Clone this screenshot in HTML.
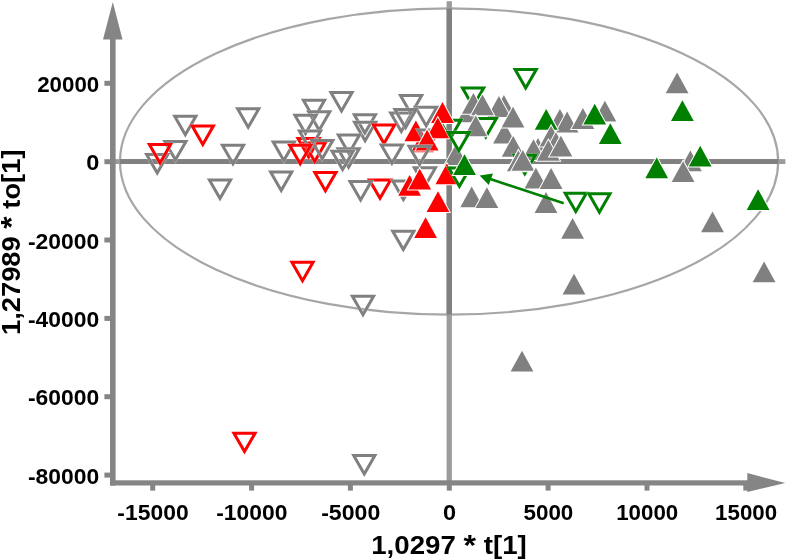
<!DOCTYPE html>
<html><head><meta charset="utf-8"><title>Score plot</title>
<style>
html,body{margin:0;padding:0;background:#fff}
svg{display:block}
text{font-family:"Liberation Sans",sans-serif;font-weight:bold;fill:#000}
.t{font-size:22.4px}
.h{font-size:25.8px}
</style></head><body>
<svg width="787" height="560" viewBox="0 0 787 560">
<defs><clipPath id="ec"><ellipse cx="449.1" cy="161.5" rx="329.1" ry="153.1"/></clipPath></defs>
<rect width="787" height="560" fill="#fff"/>
<ellipse cx="449.1" cy="161.5" rx="329.1" ry="153.1" fill="none" stroke="#a6a6a6" stroke-width="2.2"/>
<rect x="446.6" y="1.2" width="5.3" height="480" fill="#9c9c9c"/>
<rect x="115" y="159.1" width="670.4" height="4.9" fill="#9c9c9c"/>
<g clip-path="url(#ec)"><rect x="446.6" y="1.2" width="5.3" height="480" fill="#808080"/><rect x="115" y="159.1" width="670.4" height="4.9" fill="#808080"/></g>
<rect x="110" y="38" width="5.6" height="447.6" fill="#858585"/>
<polygon points="112.8,2 103,39.4 122.5,39.4" fill="#858585"/>
<rect x="110" y="480.3" width="639" height="5.2" fill="#858585"/>
<polygon points="785.3,482.9 747.3,473.1 747.3,491.9" fill="#858585"/>
<rect x="104.4" y="80.8" width="6" height="5" fill="#858585"/>
<rect x="104.4" y="159.2" width="6" height="5" fill="#858585"/>
<rect x="104.4" y="237.5" width="6" height="5" fill="#858585"/>
<rect x="104.4" y="315.9" width="6" height="5" fill="#858585"/>
<rect x="104.4" y="394.2" width="6" height="5" fill="#858585"/>
<rect x="104.4" y="472.6" width="6" height="5" fill="#858585"/>
<rect x="150.2" y="485" width="5" height="5.6" fill="#858585"/>
<rect x="249.1" y="485" width="5" height="5.6" fill="#858585"/>
<rect x="347.9" y="485" width="5" height="5.6" fill="#858585"/>
<rect x="446.8" y="485" width="5" height="5.6" fill="#858585"/>
<rect x="545.6" y="485" width="5" height="5.6" fill="#858585"/>
<rect x="644.5" y="485" width="5" height="5.6" fill="#858585"/>
<rect x="743.3" y="485" width="5" height="5.6" fill="#858585"/>
<g stroke-linejoin="miter">
<polygon points="174.7,116.3 195.9,116.3 185.3,134.7" fill="none" stroke="#fff" stroke-opacity=".5" stroke-width="3.8"/><polygon points="174.7,116.3 195.9,116.3 185.3,134.7" fill="none" stroke="#808080" stroke-width="3.0"/>
<polygon points="237.6,108.8 258.8,108.8 248.2,127.2" fill="none" stroke="#fff" stroke-opacity=".5" stroke-width="3.8"/><polygon points="237.6,108.8 258.8,108.8 248.2,127.2" fill="none" stroke="#808080" stroke-width="3.0"/>
<polygon points="164.8,141.4 186.0,141.4 175.4,159.8" fill="none" stroke="#fff" stroke-opacity=".5" stroke-width="3.8"/><polygon points="164.8,141.4 186.0,141.4 175.4,159.8" fill="none" stroke="#808080" stroke-width="3.0"/>
<polygon points="146.6,154.5 167.8,154.5 157.2,172.9" fill="none" stroke="#fff" stroke-opacity=".5" stroke-width="3.8"/><polygon points="146.6,154.5 167.8,154.5 157.2,172.9" fill="none" stroke="#808080" stroke-width="3.0"/>
<polygon points="222.4,145.3 243.6,145.3 233.0,163.7" fill="none" stroke="#fff" stroke-opacity=".5" stroke-width="3.8"/><polygon points="222.4,145.3 243.6,145.3 233.0,163.7" fill="none" stroke="#808080" stroke-width="3.0"/>
<polygon points="209.4,180.0 230.6,180.0 220.0,198.4" fill="none" stroke="#fff" stroke-opacity=".5" stroke-width="3.8"/><polygon points="209.4,180.0 230.6,180.0 220.0,198.4" fill="none" stroke="#808080" stroke-width="3.0"/>
<polygon points="273.2,142.0 294.4,142.0 283.8,160.4" fill="none" stroke="#fff" stroke-opacity=".5" stroke-width="3.8"/><polygon points="273.2,142.0 294.4,142.0 283.8,160.4" fill="none" stroke="#808080" stroke-width="3.0"/>
<polygon points="270.6,172.0 291.8,172.0 281.2,190.4" fill="none" stroke="#fff" stroke-opacity=".5" stroke-width="3.8"/><polygon points="270.6,172.0 291.8,172.0 281.2,190.4" fill="none" stroke="#808080" stroke-width="3.0"/>
<polygon points="330.9,92.6 352.1,92.6 341.5,111.0" fill="none" stroke="#fff" stroke-opacity=".5" stroke-width="3.8"/><polygon points="330.9,92.6 352.1,92.6 341.5,111.0" fill="none" stroke="#808080" stroke-width="3.0"/>
<polygon points="303.4,100.3 324.6,100.3 314.0,118.7" fill="none" stroke="#fff" stroke-opacity=".5" stroke-width="3.8"/><polygon points="303.4,100.3 324.6,100.3 314.0,118.7" fill="none" stroke="#808080" stroke-width="3.0"/>
<polygon points="308.6,111.8 329.8,111.8 319.2,130.2" fill="none" stroke="#fff" stroke-opacity=".5" stroke-width="3.8"/><polygon points="308.6,111.8 329.8,111.8 319.2,130.2" fill="none" stroke="#808080" stroke-width="3.0"/>
<polygon points="294.9,115.2 316.1,115.2 305.5,133.6" fill="none" stroke="#fff" stroke-opacity=".5" stroke-width="3.8"/><polygon points="294.9,115.2 316.1,115.2 305.5,133.6" fill="none" stroke="#808080" stroke-width="3.0"/>
<polygon points="354.3,114.7 375.5,114.7 364.9,133.1" fill="none" stroke="#fff" stroke-opacity=".5" stroke-width="3.8"/><polygon points="354.3,114.7 375.5,114.7 364.9,133.1" fill="none" stroke="#808080" stroke-width="3.0"/>
<polygon points="354.5,122.3 375.7,122.3 365.1,140.7" fill="none" stroke="#fff" stroke-opacity=".5" stroke-width="3.8"/><polygon points="354.5,122.3 375.7,122.3 365.1,140.7" fill="none" stroke="#808080" stroke-width="3.0"/>
<polygon points="338.3,135.1 359.5,135.1 348.9,153.5" fill="none" stroke="#fff" stroke-opacity=".5" stroke-width="3.8"/><polygon points="338.3,135.1 359.5,135.1 348.9,153.5" fill="none" stroke="#808080" stroke-width="3.0"/>
<polygon points="338.0,148.8 359.2,148.8 348.6,167.2" fill="none" stroke="#fff" stroke-opacity=".5" stroke-width="3.8"/><polygon points="338.0,148.8 359.2,148.8 348.6,167.2" fill="none" stroke="#808080" stroke-width="3.0"/>
<polygon points="332.0,151.2 353.2,151.2 342.6,169.6" fill="none" stroke="#fff" stroke-opacity=".5" stroke-width="3.8"/><polygon points="332.0,151.2 353.2,151.2 342.6,169.6" fill="none" stroke="#808080" stroke-width="3.0"/>
<polygon points="390.7,113.0 411.9,113.0 401.3,131.4" fill="none" stroke="#fff" stroke-opacity=".5" stroke-width="3.8"/><polygon points="390.7,113.0 411.9,113.0 401.3,131.4" fill="none" stroke="#808080" stroke-width="3.0"/>
<polygon points="400.5,95.5 421.7,95.5 411.1,113.9" fill="none" stroke="#fff" stroke-opacity=".5" stroke-width="3.8"/><polygon points="400.5,95.5 421.7,95.5 411.1,113.9" fill="none" stroke="#808080" stroke-width="3.0"/>
<polygon points="415.6,107.3 436.8,107.3 426.2,125.7" fill="none" stroke="#fff" stroke-opacity=".5" stroke-width="3.8"/><polygon points="415.6,107.3 436.8,107.3 426.2,125.7" fill="none" stroke="#808080" stroke-width="3.0"/>
<polygon points="394.9,109.4 416.1,109.4 405.5,127.8" fill="none" stroke="#fff" stroke-opacity=".5" stroke-width="3.8"/><polygon points="394.9,109.4 416.1,109.4 405.5,127.8" fill="none" stroke="#808080" stroke-width="3.0"/>
<polygon points="369.4,179.9 390.6,179.9 380.0,198.3" fill="none" stroke="#fff" stroke-opacity=".5" stroke-width="3.8"/><polygon points="369.4,179.9 390.6,179.9 380.0,198.3" fill="none" stroke="#ff0000" stroke-width="3.0"/>
<polygon points="350.0,181.6 371.2,181.6 360.6,200.0" fill="none" stroke="#fff" stroke-opacity=".5" stroke-width="3.8"/><polygon points="350.0,181.6 371.2,181.6 360.6,200.0" fill="none" stroke="#808080" stroke-width="3.0"/>
<polygon points="392.8,181.1 414.0,181.1 403.4,199.5" fill="none" stroke="#fff" stroke-opacity=".5" stroke-width="3.8"/><polygon points="392.8,181.1 414.0,181.1 403.4,199.5" fill="none" stroke="#808080" stroke-width="3.0"/>
<polygon points="414.3,167.8 435.5,167.8 424.9,186.2" fill="none" stroke="#fff" stroke-opacity=".5" stroke-width="3.8"/><polygon points="414.3,167.8 435.5,167.8 424.9,186.2" fill="none" stroke="#808080" stroke-width="3.0"/>
<polygon points="392.7,231.2 413.9,231.2 403.3,249.6" fill="none" stroke="#fff" stroke-opacity=".5" stroke-width="3.8"/><polygon points="392.7,231.2 413.9,231.2 403.3,249.6" fill="none" stroke="#808080" stroke-width="3.0"/>
<polygon points="352.4,296.3 373.6,296.3 363.0,314.7" fill="none" stroke="#fff" stroke-opacity=".5" stroke-width="3.8"/><polygon points="352.4,296.3 373.6,296.3 363.0,314.7" fill="none" stroke="#808080" stroke-width="3.0"/>
<polygon points="353.7,455.6 374.9,455.6 364.3,474.0" fill="none" stroke="#fff" stroke-opacity=".5" stroke-width="3.8"/><polygon points="353.7,455.6 374.9,455.6 364.3,474.0" fill="none" stroke="#808080" stroke-width="3.0"/>
<polygon points="298.0,138.6 319.2,138.6 308.6,157.0" fill="none" stroke="#fff" stroke-opacity=".5" stroke-width="3.8"/><polygon points="298.0,138.6 319.2,138.6 308.6,157.0" fill="none" stroke="#ff0000" stroke-width="3.0"/>
<polygon points="304.1,143.0 325.3,143.0 314.7,161.4" fill="none" stroke="#fff" stroke-opacity=".5" stroke-width="3.8"/><polygon points="304.1,143.0 325.3,143.0 314.7,161.4" fill="none" stroke="#ff0000" stroke-width="3.0"/>
<polygon points="299.4,131.1 320.6,131.1 310.0,149.5" fill="none" stroke="#fff" stroke-opacity=".5" stroke-width="3.8"/><polygon points="299.4,131.1 320.6,131.1 310.0,149.5" fill="none" stroke="#808080" stroke-width="3.0"/>
<polygon points="311.6,140.4 332.8,140.4 322.2,158.8" fill="none" stroke="#fff" stroke-opacity=".5" stroke-width="3.8"/><polygon points="311.6,140.4 332.8,140.4 322.2,158.8" fill="none" stroke="#808080" stroke-width="3.0"/>
<polygon points="192.2,126.0 213.4,126.0 202.8,144.4" fill="none" stroke="#fff" stroke-opacity=".5" stroke-width="3.8"/><polygon points="192.2,126.0 213.4,126.0 202.8,144.4" fill="none" stroke="#ff0000" stroke-width="3.0"/>
<polygon points="149.4,144.6 170.6,144.6 160.0,163.0" fill="none" stroke="#fff" stroke-opacity=".5" stroke-width="3.8"/><polygon points="149.4,144.6 170.6,144.6 160.0,163.0" fill="none" stroke="#ff0000" stroke-width="3.0"/>
<polygon points="289.6,145.3 310.8,145.3 300.2,163.7" fill="none" stroke="#fff" stroke-opacity=".5" stroke-width="3.8"/><polygon points="289.6,145.3 310.8,145.3 300.2,163.7" fill="none" stroke="#ff0000" stroke-width="3.0"/>
<polygon points="314.8,172.4 336.0,172.4 325.4,190.8" fill="none" stroke="#fff" stroke-opacity=".5" stroke-width="3.8"/><polygon points="314.8,172.4 336.0,172.4 325.4,190.8" fill="none" stroke="#ff0000" stroke-width="3.0"/>
<polygon points="373.4,125.1 394.6,125.1 384.0,143.5" fill="none" stroke="#fff" stroke-opacity=".5" stroke-width="3.8"/><polygon points="373.4,125.1 394.6,125.1 384.0,143.5" fill="none" stroke="#ff0000" stroke-width="3.0"/>
<polygon points="381.3,144.9 402.5,144.9 391.9,163.3" fill="none" stroke="#fff" stroke-opacity=".5" stroke-width="3.8"/><polygon points="381.3,144.9 402.5,144.9 391.9,163.3" fill="none" stroke="#808080" stroke-width="3.0"/>
<polygon points="291.9,262.3 313.1,262.3 302.5,280.7" fill="none" stroke="#fff" stroke-opacity=".5" stroke-width="3.8"/><polygon points="291.9,262.3 313.1,262.3 302.5,280.7" fill="none" stroke="#ff0000" stroke-width="3.0"/>
<polygon points="233.9,433.2 255.1,433.2 244.5,451.6" fill="none" stroke="#fff" stroke-opacity=".5" stroke-width="3.8"/><polygon points="233.9,433.2 255.1,433.2 244.5,451.6" fill="none" stroke="#ff0000" stroke-width="3.0"/>
<polygon points="457.1,122.3 479.9,122.3 468.5,101.5" fill="#808080" stroke="#fff" stroke-width="2" paint-order="stroke"/>
<polygon points="439.6,120.3 460.8,120.3 450.2,138.7" fill="none" stroke="#fff" stroke-opacity=".5" stroke-width="3.8"/><polygon points="439.6,120.3 460.8,120.3 450.2,138.7" fill="none" stroke="#008000" stroke-width="3.0"/>
<polygon points="411.1,152.3 433.9,152.3 422.5,131.5" fill="#ff0000" stroke="#fff" stroke-width="2" paint-order="stroke"/>
<polygon points="404.5,141.3 427.3,141.3 415.9,120.5" fill="#ff0000" stroke="#fff" stroke-width="2" paint-order="stroke"/>
<polygon points="418.0,130.1 439.2,130.1 428.6,148.5" fill="none" stroke="#fff" stroke-opacity=".5" stroke-width="3.8"/><polygon points="418.0,130.1 439.2,130.1 428.6,148.5" fill="none" stroke="#808080" stroke-width="3.0"/>
<polygon points="431.1,122.9 453.9,122.9 442.5,102.1" fill="#ff0000" stroke="#fff" stroke-width="2" paint-order="stroke"/>
<polygon points="426.4,138.3 449.2,138.3 437.8,117.5" fill="#ff0000" stroke="#fff" stroke-width="2" paint-order="stroke"/>
<polygon points="415.7,150.5 438.5,150.5 427.1,129.7" fill="#ff0000" stroke="#fff" stroke-width="2" paint-order="stroke"/>
<polygon points="409.0,146.2 430.2,146.2 419.6,164.6" fill="none" stroke="#fff" stroke-opacity=".5" stroke-width="3.8"/><polygon points="409.0,146.2 430.2,146.2 419.6,164.6" fill="none" stroke="#808080" stroke-width="3.0"/>
<polygon points="398.2,195.7 421.0,195.7 409.6,174.9" fill="#ff0000" stroke="#fff" stroke-width="2" paint-order="stroke"/>
<polygon points="408.3,189.5 431.1,189.5 419.7,168.7" fill="#ff0000" stroke="#fff" stroke-width="2" paint-order="stroke"/>
<polygon points="444.6,165.1 467.4,165.1 456.0,144.3" fill="#808080" stroke="#fff" stroke-width="2" paint-order="stroke"/>
<polygon points="435.5,184.3 458.3,184.3 446.9,163.5" fill="#ff0000" stroke="#fff" stroke-width="2" paint-order="stroke"/>
<polygon points="426.6,212.1 449.4,212.1 438.0,191.3" fill="#ff0000" stroke="#fff" stroke-width="2" paint-order="stroke"/>
<polygon points="414.2,238.1 437.0,238.1 425.6,217.3" fill="#ff0000" stroke="#fff" stroke-width="2" paint-order="stroke"/>
<polygon points="462.5,88.0 483.7,88.0 473.1,106.4" fill="none" stroke="#fff" stroke-opacity=".5" stroke-width="3.8"/><polygon points="462.5,88.0 483.7,88.0 473.1,106.4" fill="none" stroke="#008000" stroke-width="3.0"/>
<polygon points="448.8,167.9 470.0,167.9 459.4,186.3" fill="none" stroke="#fff" stroke-opacity=".5" stroke-width="3.8"/><polygon points="448.8,167.9 470.0,167.9 459.4,186.3" fill="none" stroke="#008000" stroke-width="3.0"/>
<polygon points="515.1,69.6 536.3,69.6 525.7,88.0" fill="none" stroke="#fff" stroke-opacity=".5" stroke-width="3.8"/><polygon points="515.1,69.6 536.3,69.6 525.7,88.0" fill="none" stroke="#008000" stroke-width="3.0"/>
<polygon points="565.2,193.2 586.4,193.2 575.8,211.6" fill="none" stroke="#fff" stroke-opacity=".5" stroke-width="3.8"/><polygon points="565.2,193.2 586.4,193.2 575.8,211.6" fill="none" stroke="#008000" stroke-width="3.0"/>
<polygon points="588.8,193.8 610.0,193.8 599.4,212.2" fill="none" stroke="#fff" stroke-opacity=".5" stroke-width="3.8"/><polygon points="588.8,193.8 610.0,193.8 599.4,212.2" fill="none" stroke="#008000" stroke-width="3.0"/>
<polygon points="492.5,115.8 515.3,115.8 503.9,95.0" fill="#808080" stroke="#fff" stroke-width="2" paint-order="stroke"/>
<polygon points="487.5,116.9 510.3,116.9 498.9,96.1" fill="#808080" stroke="#fff" stroke-width="2" paint-order="stroke"/>
<polygon points="462.0,113.7 484.8,113.7 473.4,92.9" fill="#808080" stroke="#fff" stroke-width="2" paint-order="stroke"/>
<polygon points="471.1,115.3 493.9,115.3 482.5,94.5" fill="#808080" stroke="#fff" stroke-width="2" paint-order="stroke"/>
<polygon points="475.2,118.5 496.4,118.5 485.8,136.9" fill="none" stroke="#fff" stroke-opacity=".5" stroke-width="3.8"/><polygon points="475.2,118.5 496.4,118.5 485.8,136.9" fill="none" stroke="#008000" stroke-width="3.0"/>
<polygon points="464.4,136.2 487.2,136.2 475.8,115.4" fill="#808080" stroke="#fff" stroke-width="2" paint-order="stroke"/>
<polygon points="448.2,132.4 469.4,132.4 458.8,150.8" fill="none" stroke="#fff" stroke-opacity=".5" stroke-width="3.8"/><polygon points="448.2,132.4 469.4,132.4 458.8,150.8" fill="none" stroke="#008000" stroke-width="3.0"/>
<polygon points="493.1,143.5 515.9,143.5 504.5,122.7" fill="#808080" stroke="#fff" stroke-width="2" paint-order="stroke"/>
<polygon points="501.6,127.6 524.4,127.6 513.0,106.8" fill="#808080" stroke="#fff" stroke-width="2" paint-order="stroke"/>
<polygon points="501.8,156.7 524.6,156.7 513.2,135.9" fill="#808080" stroke="#fff" stroke-width="2" paint-order="stroke"/>
<polygon points="548.5,129.7 571.3,129.7 559.9,108.9" fill="#808080" stroke="#fff" stroke-width="2" paint-order="stroke"/>
<polygon points="555.7,132.4 578.5,132.4 567.1,111.6" fill="#808080" stroke="#fff" stroke-width="2" paint-order="stroke"/>
<polygon points="571.5,128.9 594.3,128.9 582.9,108.1" fill="#808080" stroke="#fff" stroke-width="2" paint-order="stroke"/>
<polygon points="593.5,121.6 616.3,121.6 604.9,100.8" fill="#808080" stroke="#fff" stroke-width="2" paint-order="stroke"/>
<polygon points="526.6,158.8 549.4,158.8 538.0,138.0" fill="#808080" stroke="#fff" stroke-width="2" paint-order="stroke"/>
<polygon points="522.1,160.1 544.9,160.1 533.5,139.3" fill="#808080" stroke="#fff" stroke-width="2" paint-order="stroke"/>
<polygon points="514.2,155.3 535.4,155.3 524.8,173.7" fill="none" stroke="#fff" stroke-opacity=".5" stroke-width="3.8"/><polygon points="514.2,155.3 535.4,155.3 524.8,173.7" fill="none" stroke="#008000" stroke-width="3.0"/>
<polygon points="507.0,171.2 529.8,171.2 518.4,150.4" fill="#808080" stroke="#fff" stroke-width="2" paint-order="stroke"/>
<polygon points="511.4,170.8 534.2,170.8 522.8,150.0" fill="#808080" stroke="#fff" stroke-width="2" paint-order="stroke"/>
<polygon points="524.5,188.5 547.3,188.5 535.9,167.7" fill="#808080" stroke="#fff" stroke-width="2" paint-order="stroke"/>
<polygon points="539.7,188.9 562.5,188.9 551.1,168.1" fill="#808080" stroke="#fff" stroke-width="2" paint-order="stroke"/>
<polygon points="534.6,212.9 557.4,212.9 546.0,192.1" fill="#808080" stroke="#fff" stroke-width="2" paint-order="stroke"/>
<polygon points="460.3,207.2 483.1,207.2 471.7,186.4" fill="#808080" stroke="#fff" stroke-width="2" paint-order="stroke"/>
<polygon points="475.5,208.1 498.3,208.1 486.9,187.3" fill="#808080" stroke="#fff" stroke-width="2" paint-order="stroke"/>
<polygon points="561.2,238.8 584.0,238.8 572.6,218.0" fill="#808080" stroke="#fff" stroke-width="2" paint-order="stroke"/>
<polygon points="562.6,294.6 585.4,294.6 574.0,273.8" fill="#808080" stroke="#fff" stroke-width="2" paint-order="stroke"/>
<polygon points="510.6,371.6 533.4,371.6 522.0,350.8" fill="#808080" stroke="#fff" stroke-width="2" paint-order="stroke"/>
<polygon points="665.7,93.2 688.5,93.2 677.1,72.4" fill="#808080" stroke="#fff" stroke-width="2" paint-order="stroke"/>
<polygon points="679.0,171.3 701.8,171.3 690.4,150.5" fill="#808080" stroke="#fff" stroke-width="2" paint-order="stroke"/>
<polygon points="671.7,182.0 694.5,182.0 683.1,161.2" fill="#808080" stroke="#fff" stroke-width="2" paint-order="stroke"/>
<polygon points="701.1,232.3 723.9,232.3 712.5,211.5" fill="#808080" stroke="#fff" stroke-width="2" paint-order="stroke"/>
<polygon points="752.7,282.3 775.5,282.3 764.1,261.5" fill="#808080" stroke="#fff" stroke-width="2" paint-order="stroke"/>
<polygon points="534.8,129.7 557.6,129.7 546.2,108.9" fill="#008000" stroke="#fff" stroke-width="2" paint-order="stroke"/>
<polygon points="539.7,146.6 562.5,146.6 551.1,125.8" fill="#808080" stroke="#fff" stroke-width="2" paint-order="stroke"/>
<polygon points="544.6,153.1 567.4,153.1 556.0,132.3" fill="#808080" stroke="#fff" stroke-width="2" paint-order="stroke"/>
<polygon points="537.0,160.8 559.8,160.8 548.4,140.0" fill="#808080" stroke="#fff" stroke-width="2" paint-order="stroke"/>
<polygon points="549.5,156.5 572.3,156.5 560.9,135.7" fill="#808080" stroke="#fff" stroke-width="2" paint-order="stroke"/>
<polygon points="453.1,175.1 475.9,175.1 464.5,154.3" fill="#008000" stroke="#fff" stroke-width="2" paint-order="stroke"/>
<polygon points="583.3,124.5 606.1,124.5 594.7,103.7" fill="#008000" stroke="#fff" stroke-width="2" paint-order="stroke"/>
<polygon points="598.9,144.0 621.7,144.0 610.3,123.2" fill="#008000" stroke="#fff" stroke-width="2" paint-order="stroke"/>
<polygon points="671.0,121.0 693.8,121.0 682.4,100.2" fill="#008000" stroke="#fff" stroke-width="2" paint-order="stroke"/>
<polygon points="645.3,178.2 668.1,178.2 656.7,157.4" fill="#008000" stroke="#fff" stroke-width="2" paint-order="stroke"/>
<polygon points="688.8,166.6 711.6,166.6 700.2,145.8" fill="#008000" stroke="#fff" stroke-width="2" paint-order="stroke"/>
<polygon points="746.7,210.1 769.5,210.1 758.1,189.3" fill="#008000" stroke="#fff" stroke-width="2" paint-order="stroke"/>
</g>
<line x1="563.7" y1="203.3" x2="488" y2="178.3" stroke="#008000" stroke-width="2.6"/><polygon points="479.6,175.5 493.0,173.5 488.8,184.9" fill="#008000"/>
<g class="t">
<text x="99.3" y="91.9" text-anchor="end" textLength="62.1" lengthAdjust="spacingAndGlyphs">20000</text>
<text x="99.3" y="170.3" text-anchor="end" textLength="13.1" lengthAdjust="spacingAndGlyphs">0</text>
<text x="99.3" y="248.6" text-anchor="end" textLength="71.3" lengthAdjust="spacingAndGlyphs">-20000</text>
<text x="99.3" y="327.0" text-anchor="end" textLength="71.3" lengthAdjust="spacingAndGlyphs">-40000</text>
<text x="99.3" y="405.3" text-anchor="end" textLength="71.3" lengthAdjust="spacingAndGlyphs">-60000</text>
<text x="99.3" y="483.7" text-anchor="end" textLength="71.3" lengthAdjust="spacingAndGlyphs">-80000</text>
<text x="153.0" y="519.7" text-anchor="middle" textLength="71.3" lengthAdjust="spacingAndGlyphs">-15000</text>
<text x="251.9" y="519.7" text-anchor="middle" textLength="71.3" lengthAdjust="spacingAndGlyphs">-10000</text>
<text x="350.7" y="519.7" text-anchor="middle" textLength="59.1" lengthAdjust="spacingAndGlyphs">-5000</text>
<text x="449.6" y="519.7" text-anchor="middle" textLength="13.1" lengthAdjust="spacingAndGlyphs">0</text>
<text x="548.4" y="519.7" text-anchor="middle" textLength="49.9" lengthAdjust="spacingAndGlyphs">5000</text>
<text x="647.2" y="519.7" text-anchor="middle" textLength="62.1" lengthAdjust="spacingAndGlyphs">10000</text>
<text x="746.1" y="519.7" text-anchor="middle" textLength="62.1" lengthAdjust="spacingAndGlyphs">15000</text>
</g>
<text class="h" x="371.2" y="553.7" textLength="155.6" lengthAdjust="spacingAndGlyphs">1,0297 <tspan dy="1.6" font-size="30">*</tspan><tspan dy="-1.6"> t[1]</tspan></text>
<text class="h" transform="translate(19.8,335) rotate(-90)" textLength="185.5" lengthAdjust="spacingAndGlyphs">1,27989 <tspan dy="1.6" font-size="30">*</tspan><tspan dy="-1.6"> to[1]</tspan></text>
</svg>
</body></html>
